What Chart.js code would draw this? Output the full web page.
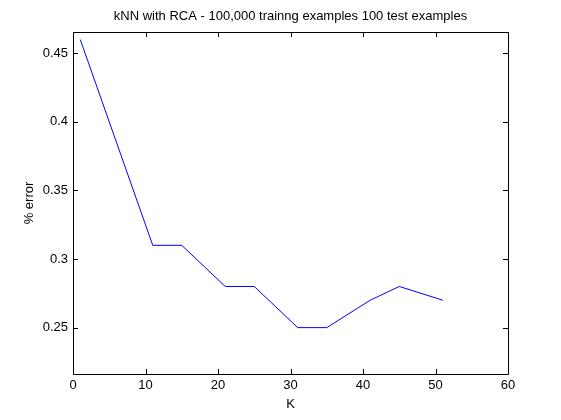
<!DOCTYPE html>
<html>
<head>
<meta charset="utf-8">
<script src="https://cdn.jsdelivr.net/npm/chart.js@4"></script>
<style>
  html, body { margin: 0; padding: 0; background: #fff; }
  canvas { display: block; }
</style>
</head>
<body>
<canvas id="grafico" width="561" height="420"></canvas>
<script>
// dados
const valoresK = [1, 11, 15, 21, 25, 31, 35, 41, 45, 51];
const erros = [0.46, 0.31, 0.31, 0.28, 0.28, 0.25, 0.25, 0.27, 0.28, 0.27];
const ticksX = [0, 10, 20, 30, 40, 50, 60];
const ticksY = [0.25, 0.3, 0.35, 0.4, 0.45];

const titulo = 'kNN with RCA - 100,000 trainng examples 100 test examples';
const fonte = { family: '"Liberation Sans", Arial, sans-serif', size: 13 };

// caixa e marcas para dentro, estilo matlab
const caixaMatlab = {
  id: 'caixaMatlab',
  afterDraw(chart) {
    const { ctx, chartArea: a, scales } = chart;
    const t = 5;
    ctx.save();
    ctx.strokeStyle = '#000';
    ctx.lineWidth = 1;
    ctx.beginPath();
    ctx.rect(Math.round(a.left) + 0.5, Math.round(a.top) + 0.5,
      Math.round(a.right - a.left), Math.round(a.bottom - a.top));
    scales.x.ticks.forEach(tk => {
      const px = Math.round(scales.x.getPixelForValue(tk.value)) + 0.5;
      ctx.moveTo(px, a.bottom); ctx.lineTo(px, a.bottom - t);
      ctx.moveTo(px, a.top); ctx.lineTo(px, a.top + t);
    });
    scales.y.ticks.forEach(tk => {
      const py = Math.round(scales.y.getPixelForValue(tk.value)) + 0.5;
      ctx.moveTo(a.left, py); ctx.lineTo(a.left + t, py);
      ctx.moveTo(a.right, py); ctx.lineTo(a.right - t, py);
    });
    ctx.stroke();
    ctx.restore();
  }
};

const fundoBranco = {
  id: 'fundoBranco',
  beforeDraw(chart) {
    const ctx = chart.ctx;
    ctx.save();
    ctx.fillStyle = '#fff';
    ctx.fillRect(0, 0, chart.width, chart.height);
    ctx.restore();
  }
};

new Chart(document.getElementById('grafico'), {
  type: 'line',
  data: {
    datasets: [{
      data: valoresK.map((k, i) => ({ x: k, y: erros[i] })),
      borderColor: '#0000ff',
      borderWidth: 1,
      pointRadius: 0,
      tension: 0,
      fill: false
    }]
  },
  options: {
    responsive: false,
    animation: false,
    layout: { padding: { left: 20, right: 0, top: 0, bottom: 0 } },
    plugins: {
      legend: { display: false },
      tooltip: { enabled: false },
      title: {
        display: true,
        text: titulo,
        color: '#000',
        font: { ...fonte, weight: 'normal' },
        padding: { top: 9, bottom: 7.4 }
      }
    },
    scales: {
      x: {
        type: 'linear',
        min: 0,
        max: 60,
        afterBuildTicks: s => { s.ticks = ticksX.map(v => ({ value: v })); },
        afterFit: s => { s.height = 46; },
        grid: { display: false, drawTicks: false },
        border: { display: false },
        ticks: { color: '#000', font: fonte, padding: 4, maxRotation: 0 },
        title: { display: true, text: 'K', color: '#000', font: fonte, padding: { top: 0, bottom: 8 } }
      },
      y: {
        type: 'linear',
        min: 0.2162,
        max: 0.4655,
        afterBuildTicks: s => { s.ticks = ticksY.map(v => ({ value: v })); },
        afterFit: s => { s.width = 53; },
        grid: { display: false, drawTicks: false },
        border: { display: false },
        ticks: { color: '#000', font: fonte, padding: 5, callback: v => String(v) },
        title: { display: true, text: '% error', color: '#000', font: fonte, padding: { top: 2, bottom: 0 } }
      },
      // eixo vazio só para reservar a margem da direita
      margemDireita: {
        type: 'linear',
        position: 'right',
        display: true,
        afterFit: s => { s.width = 53; },
        grid: { display: false, drawTicks: false },
        border: { display: false },
        ticks: { display: false }
      }
    }
  },
  plugins: [fundoBranco, caixaMatlab]
});
</script>
</body>
</html>
